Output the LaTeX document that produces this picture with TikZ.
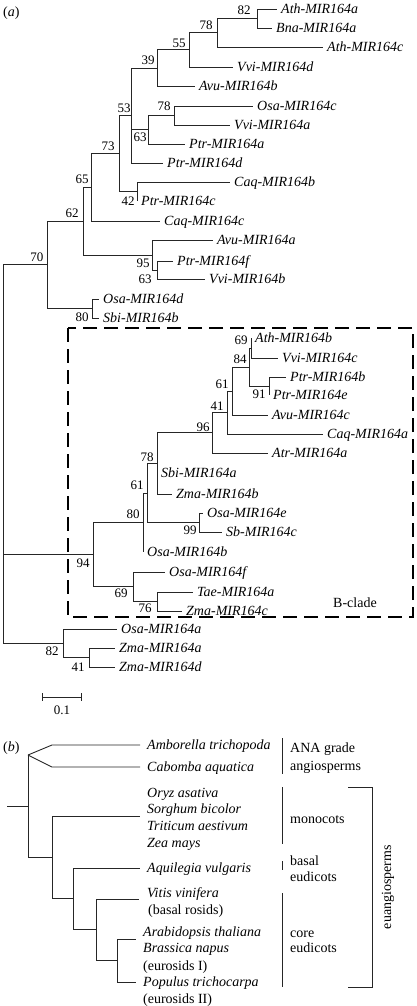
\documentclass[tikz,border=0pt]{standalone}
\usepackage{fontspec}
\setmainfont{Liberation Serif}
\usetikzlibrary{positioning,calc}

\begin{document}
\begin{tikzpicture}[x=1pt,y=-1pt,
  every node/.style={font=\fontsize{14}{16.5}\selectfont},
  leaf/.style={anchor=west,inner xsep=4pt,inner ysep=0pt,text height=9.3pt,text depth=0pt,font=\fontsize{14}{16.5}\selectfont\itshape},
  leafb/.style={leaf,inner xsep=7pt},
  grp/.style={anchor=west,inner sep=0pt,text height=9.3pt,text depth=0pt},
  boot/.style={inner sep=0pt,font=\fontsize{13}{13}\selectfont},
  br/.style={line width=0.9pt,draw=black!85},
  elbow/.style={to path={|- (\tikztotarget)}}]
\useasboundingbox (0,0) rectangle (416,1006);

% (a) miRNA tree
\node[grp] (pa) at (3,12) {(\textit{a})};

\node[leaf] (ath164a) at (277,9) {Ath-MIR164a};
\node[leaf] (bna164a) at (272,28) {Bna-MIR164a};
\node[leaf] (ath164c) at (323,47) {Ath-MIR164c};
\node[leaf] (vvi164d) at (233,67) {Vvi-MIR164d};
\node[leaf] (avu164b) at (195,86) {Avu-MIR164b};
\node[leaf] (osa164c) at (253,106) {Osa-MIR164c};
\node[leaf] (vvi164a) at (230,125) {Vvi-MIR164a};
\node[leaf] (ptr164a) at (185,144) {Ptr-MIR164a};
\node[leaf] (ptr164d) at (163,163) {Ptr-MIR164d};
\node[leaf] (caq164b) at (230,182) {Caq-MIR164b};
\node[leaf] (ptr164c) at (137,201) {Ptr-MIR164c};
\node[leaf] (caq164c) at (160,221) {Caq-MIR164c};
\node[leaf] (avu164a) at (213,240) {Avu-MIR164a};
\node[leaf] (ptr164f) at (173,261) {Ptr-MIR164f};
\node[leaf] (vvi164b) at (205,279) {Vvi-MIR164b};
\node[leaf] (osa164d) at (99,299) {Osa-MIR164d};
\node[leaf] (sbi164b) at (99,318) {Sbi-MIR164b};
\node[leaf] (ath164b) at (251,338) {Ath-MIR164b};
\node[leaf] (vvi164c) at (278,358) {Vvi-MIR164c};
\node[leaf] (ptr164b) at (286,377) {Ptr-MIR164b};
\node[leaf] (ptr164e) at (269,395) {Ptr-MIR164e};
\node[leaf] (avu164c) at (268,415) {Avu-MIR164c};
\node[leaf] (caq164a) at (323,434) {Caq-MIR164a};
\node[leaf] (atr164a) at (268,453) {Atr-MIR164a};
\node[leaf] (sbi164a) at (157,473) {Sbi-MIR164a};
\node[leaf] (zma164b) at (172,494) {Zma-MIR164b};
\node[leaf] (osa164e) at (203,513) {Osa-MIR164e};
\node[leaf] (sb164c)  at (222,532) {Sb-MIR164c};
\node[leaf] (osa164b) at (143,552) {Osa-MIR164b};
\node[leaf] (osa164f) at (165,572) {Osa-MIR164f};
\node[leaf] (tae164a) at (193,592) {Tae-MIR164a};
\node[leaf] (zma164c) at (182,611) {Zma-MIR164c};
\node[leaf] (osa164a) at (117,629) {Osa-MIR164a};
\node[leaf] (zma164a) at (115,648) {Zma-MIR164a};
\node[leaf] (zma164d) at (115,667) {Zma-MIR164d};

\coordinate (n82a) at (257,18.5);
\coordinate (n78a) at (217,32.75);
\coordinate (n55)  at (189,49.9);
\coordinate (n39)  at (157,68);
\coordinate (n78b) at (174,115.5);
\coordinate (n63a) at (148,129.75);
\coordinate (n53)  at (131,115.5);
\coordinate (n42)  at (137,191.5);
\coordinate (n73)  at (119,153.5);
\coordinate (n65)  at (91,187.25);
\coordinate (n63b) at (157,270);
\coordinate (n95)  at (152,255);
\coordinate (n62)  at (83,221);
\coordinate (n80a) at (92,308.5);
\coordinate (n70)  at (47,264.75);
\coordinate (n69a) at (251,348);
\coordinate (n91)  at (269,386);
\coordinate (n84)  at (249,367);
\coordinate (n61a) at (232,391);
\coordinate (n41a) at (227,412.5);
\coordinate (n96)  at (212,432.75);
\coordinate (n78c) at (157,463.4);
\coordinate (n99)  at (199,522.5);
\coordinate (n61b) at (147,493);
\coordinate (n80b) at (143,522.5);
\coordinate (n76)  at (157,601.5);
\coordinate (n69b) at (133,586.75);
\coordinate (n94)  at (93,554.6);
\coordinate (n41b) at (89,657.5);
\coordinate (n82b) at (63,643);
\coordinate (root) at (3,454);

\path[br]
  (n82a) edge[elbow] (ath164a.west) edge[elbow] (bna164a.west)
  (n78a) edge[elbow] (n82a) edge[elbow] (ath164c.west)
  (n55)  edge[elbow] (n78a) edge[elbow] (vvi164d.west)
  (n39)  edge[elbow] (n55) edge[elbow] (avu164b.west)
  (n78b) edge[elbow] (osa164c.west) edge[elbow] (vvi164a.west)
  (n63a) edge[elbow] (n78b) edge[elbow] (ptr164a.west)
  (n53)  edge[elbow] (n39) edge[elbow] (n63a) edge[elbow] (ptr164d.west)
  (n42)  edge[elbow] (caq164b.west) edge[elbow] (ptr164c.west)
  (n73)  edge[elbow] (n53) edge[elbow] (n42)
  (n65)  edge[elbow] (n73) edge[elbow] (caq164c.west)
  (n63b) edge[elbow] (ptr164f.west) edge[elbow] (vvi164b.west)
  (n95)  edge[elbow] (avu164a.west) edge[elbow] (n63b)
  (n62)  edge[elbow] (n65) edge[elbow] (n95)
  (n80a) edge[elbow] (osa164d.west) edge[elbow] (sbi164b.west)
  (n70)  edge[elbow] (n62) edge[elbow] (n80a)
  (n69a) edge[elbow] (ath164b.west) edge[elbow] (vvi164c.west)
  (n91)  edge[elbow] (ptr164b.west) edge[elbow] (ptr164e.west)
  (n84)  edge[elbow] (n69a) edge[elbow] (n91)
  (n61a) edge[elbow] (n84) edge[elbow] (avu164c.west)
  (n41a) edge[elbow] (n61a) edge[elbow] (caq164a.west)
  (n96)  edge[elbow] (n41a) edge[elbow] (atr164a.west)
  (n78c) edge[elbow] (n96) edge[elbow] (sbi164a.west) edge[elbow] (zma164b.west)
  (n99)  edge[elbow] (osa164e.west) edge[elbow] (sb164c.west)
  (n61b) edge[elbow] (n78c) edge[elbow] (n99)
  (n80b) edge[elbow] (n61b) edge[elbow] (osa164b.west)
  (n76)  edge[elbow] (tae164a.west) edge[elbow] (zma164c.west)
  (n69b) edge[elbow] (osa164f.west) edge[elbow] (n76)
  (n94)  edge[elbow] (n80b) edge[elbow] (n69b)
  (n41b) edge[elbow] (zma164a.west) edge[elbow] (zma164d.west)
  (n82b) edge[elbow] (osa164a.west) edge[elbow] (n41b)
  (root) edge[elbow] (n70) edge[elbow] (n94) edge[elbow] (n82b);

% bootstrap values
\node[boot] (s82a) at (244,10) {82};
\node[boot] (s78a) at (206,25) {78};
\node[boot] (s55)  at (179,43) {55};
\node[boot] (s39)  at (148,60) {39};
\node[boot] (s53)  at (124,108) {53};
\node[boot] (s78b) at (164,106) {78};
\node[boot] (s63a) at (140,137) {63};
\node[boot] (s73)  at (108,146) {73};
\node[boot] (s65)  at (82,179) {65};
\node[boot] (s42)  at (128,201) {42};
\node[boot] (s62)  at (72,213) {62};
\node[boot] (s70)  at (37,257) {70};
\node[boot] (s95)  at (143,263) {95};
\node[boot] (s63b) at (145,279) {63};
\node[boot] (s80a) at (82,317) {80};
\node[boot] (s69a) at (241,340) {69};
\node[boot] (s84)  at (240,359) {84};
\node[boot] (s61a) at (222,384) {61};
\node[boot] (s91)  at (259,394) {91};
\node[boot] (s41a) at (217,406) {41};
\node[boot] (s96)  at (203,427) {96};
\node[boot] (s78c) at (147,457) {78};
\node[boot] (s61b) at (137,485) {61};
\node[boot] (s80b) at (133,514) {80};
\node[boot] (s99)  at (190,530) {99};
\node[boot] (s94)  at (83,563) {94};
\node[boot] (s69b) at (121,593) {69};
\node[boot] (s76)  at (145,608) {76};
\node[boot] (s82b) at (52,651) {82};
\node[boot] (s41b) at (78,667) {41};

% B-clade box
\draw[line width=2.5pt,dash pattern=on 14pt off 7pt] (68,328) rectangle (413,617);
\node (bclade) at (355,603) {B-clade};

% scale bar
\coordinate (sb0) at (42,697);
\coordinate (sb1) at (82,697);
\draw[br,|-|] (sb0) -- (sb1);
\node[boot] (sbl) at (62,710) {0.1};

% (b) species tree
\node[grp] (pb) at (3,747) {(\textit{b})};

\node[leafb] (amb) at (140,745) {Amborella trichopoda};
\node[leafb] (cab) at (140,767) {Cabomba aquatica};
\node[leafb] (ory) at (140,793) {Oryz asativa};
\node[leafb] (sor) at (140,809) {Sorghum bicolor};
\node[leafb] (tri) at (140,826) {Triticum aestivum};
\node[leafb] (zea) at (140,843) {Zea mays};
\node[leafb] (aqu) at (140,868) {Aquilegia vulgaris};
\node[leafb] (vit) at (140,893) {Vitis vinifera};
\node[leafb] (bros) at (141,910) {\upshape(basal rosids)};
\node[leafb] (ara) at (136,932) {Arabidopsis thaliana};
\node[leafb] (bra) at (136,948) {Brassica napus};
\node[leafb] (eu1) at (136,966) {\upshape(eurosids I)};
\node[leafb] (pop) at (136,982) {Populus trichocarpa};
\node[leafb] (eu2) at (136,999) {\upshape(eurosids II)};

\coordinate (bstub) at (7,806);
\coordinate (broot) at (28,806);
\coordinate (bana) at (28,755);
\coordinate (kamb) at (52,745);
\coordinate (kcab) at (52,767);
\coordinate (bmono) at (52,857);
\coordinate (beud) at (73,898);
\coordinate (brosid) at (96,929);
\coordinate (beur) at (117,960);

\draw[br] (bstub) -- (broot);
\draw[br] (bana) -- (kamb) -- (amb.west);
\draw[br] (bana) -- (kcab) -- (cab.west);
\path[br]
  (broot) edge[elbow] (bana) edge[elbow] (bmono)
  (bmono) edge[elbow] ($(sor.west)!0.45!(tri.west)$) edge[elbow] (beud)
  (beud) edge[elbow] (aqu.west) edge[elbow] (brosid)
  (brosid) edge[elbow] ($(vit.west)!0.35!(bros.west)+(-1,0)$) edge[elbow] (beur)
  (beur) edge[elbow] ($(ara.west)!0.45!(bra.west)$) edge[elbow] (pop.west);

% clade labels
\draw[br] (282,738) -- (282,774);
\draw[br] (282,787) -- (282,844);
\draw[br] (282,861) -- (282,870);
\draw[br] (282,893) -- (282,987);
\draw[br] (348,787) -- (372,787) -- (372,987) -- (348,987);
\node[grp] (ana1) at (290,748) {ANA grade};
\node[grp] (ana2) at (290,766) {angiosperms};
\node[grp] (mono) at (290,819) {monocots};
\node[grp] (bas1) at (290,861) {basal};
\node[grp] (bas2) at (290,877) {eudicots};
\node[grp] (core1) at (290,933) {core};
\node[grp] (core2) at (290,948) {eudicots};
\node[rotate=90,inner sep=0pt] (euang) at (388,887) {euangiosperms};
\end{tikzpicture}
\end{document}
